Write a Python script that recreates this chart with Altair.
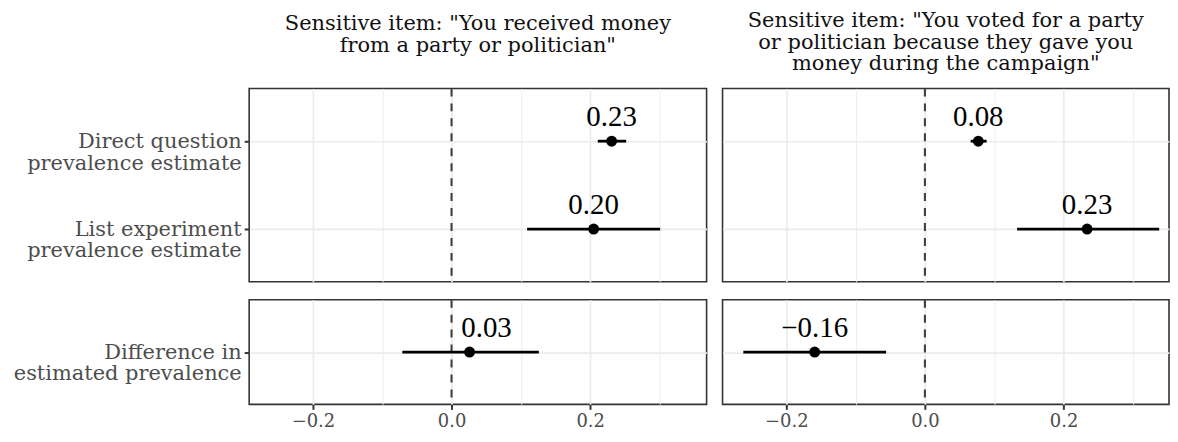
import altair as alt
import pandas as pd

# ---------------- data ----------------
items = ["received", "voted"]
item_titles = [
    ['Sensitive item: "You received money', 'from a party or politician"'],
    ['Sensitive item: "You voted for a party', 'or politician because they gave you',
     'money during the campaign"'],
]
measures = [
    "Direct question\nprevalence estimate",
    "List experiment\nprevalence estimate",
    "Difference in\nestimated prevalence",
]
measure_group = ["estimate", "estimate", "difference"]

est_received = [0.231, 0.205, 0.026]
low_received = [0.211, 0.109, -0.071]
high_received = [0.252, 0.301, 0.126]

est_voted = [0.077, 0.234, -0.159]
low_voted = [0.066, 0.133, -0.262]
high_voted = [0.089, 0.338, -0.056]

x_tick_values = [-0.2, -0.1, 0.0, 0.1, 0.2, 0.3]
zero_line = [0.0]

rows = []
for item, est, low, high in [
    ("received", est_received, low_received, high_received),
    ("voted", est_voted, low_voted, high_voted),
]:
    for m, g, e, lo, hi in zip(measures, measure_group, est, low, high):
        rows.append({"item": item, "measure": m, "group": g, "est": e, "low": lo, "high": hi})
df = pd.DataFrame(rows)
zero_df = pd.DataFrame({"x": zero_line})

# shared x scale with 5% expansion (as ggplot does)
lo_all = min(low_received + low_voted)
hi_all = max(high_received + high_voted)
pad = 0.05 * (hi_all - lo_all)
x_domain = [lo_all - pad, hi_all + pad]

SERIF = "DejaVu Serif"
NUM = "Liberation Serif"
GRID = "#ebebeb"
DARK = "#333333"
minor_test = "abs(round(datum.value*10)) % 2 == 1"

W_LEFT = 459
W_RIGHT = 448   # right panel is cut at the window edge, same scale as the left one
H_TOP = 194
H_BOT = 105
px_per_unit = W_LEFT / (x_domain[1] - x_domain[0])
domains = [x_domain, [x_domain[0], x_domain[0] + W_RIGHT / px_per_unit]]
widths = [W_LEFT, W_RIGHT]


def panel(item_idx, group, first_col, bottom_row):
    item = items[item_idx]
    data = df[(df["item"] == item) & (df["group"] == group)]
    ysort = [m for m, g in zip(measures, measure_group) if g == group]

    grid_width = {"condition": {"test": minor_test, "value": 0.9}, "value": 1.7}
    if bottom_row:
        xaxis = alt.Axis(
            values=x_tick_values, title=None, grid=True, gridColor=GRID, gridWidth=grid_width,
            domain=False, ticks=True, tickSize=5, tickWidth=2, tickColor=DARK,
            tickOpacity={"condition": {"test": minor_test, "value": 0}, "value": 1},
            labelExpr="abs(round(datum.value*10)) % 2 == 1 ? '' : replace(format(datum.value, '.1f'), '-', '\u2212')",
            labelFont=SERIF, labelFontSize=18, labelColor="#4d4d4d", labelPadding=3,
            labelFlush=False, labelOverlap=False,
        )
    else:
        xaxis = alt.Axis(
            values=x_tick_values, title=None, grid=True, gridColor=GRID, gridWidth=grid_width,
            domain=False, ticks=False, labels=False,
        )
    if first_col:
        yaxis = alt.Axis(
            title=None, grid=True, gridColor=GRID, gridWidth=1.7, domain=False,
            ticks=True, tickSize=5, tickWidth=2, tickColor=DARK,
            labelExpr="split(datum.label, '\\n')", labelFont=SERIF, labelFontSize=21,
            labelLineHeight=22, labelColor="#4d4d4d", labelPadding=3, labelLimit=400,
            minExtent=241, maxExtent=241,
        )
    else:
        yaxis = alt.Axis(title=None, grid=True, gridColor=GRID, gridWidth=1.7,
                         domain=False, ticks=False, labels=False)

    xscale = alt.Scale(domain=domains[item_idx], nice=False, zero=False)
    yscale = alt.Scale(type="point", padding=0.6)

    def X(f):
        return alt.X(f, scale=xscale, axis=xaxis)

    def Y():
        return alt.Y("measure:N", sort=ysort, scale=yscale, axis=yaxis)

    base = alt.Chart(data)
    vline = alt.Chart(zero_df).mark_rule(
        color="#404040", strokeWidth=2.1, strokeDash=[8, 7]
    ).encode(x=X("x:Q"))
    bars = base.mark_rule(color="black", strokeWidth=2.8).encode(
        x=X("low:Q"), x2="high:Q", y=Y()
    )
    pts = base.mark_circle(color="black", size=120, opacity=1).encode(x=X("est:Q"), y=Y())
    lab = base.transform_calculate(
        label="replace(format(datum.est, '.2f'), '-', '\u2212')"
    )
    txt = lab.transform_filter("abs(datum.est) >= 0.05").mark_text(
        font=NUM, fontSize=29, color="black", baseline="alphabetic", dy=-15
    ).encode(x=X("est:Q"), y=Y(), text="label:N")
    txt_nudged = lab.transform_filter("abs(datum.est) < 0.05").mark_text(
        font=NUM, fontSize=29, color="black", baseline="alphabetic", dy=-15, dx=17
    ).encode(x=X("est:Q"), y=Y(), text="label:N")

    ch = alt.layer(vline, bars, pts, txt, txt_nudged).properties(
        width=widths[item_idx], height=H_TOP if group == "estimate" else H_BOT
    )
    if group == "estimate":
        lines = item_titles[item_idx]
        ch = ch.properties(title=alt.TitleParams(
            text=lines, font=SERIF, fontSize=21, fontWeight="normal", color="#111111",
            lineHeight=22, anchor="middle", frame="group", offset=13,
            dy=0 if len(lines) == 3 else -19,
        ))
    return ch


chart = alt.concat(
    panel(0, "estimate", True, False),
    panel(1, "estimate", False, False),
    panel(0, "difference", True, True),
    panel(1, "difference", False, True),
    columns=2,
    spacing={"row": 14, "column": 14},
    align="each",
).properties(padding=0, background="white").configure_view(
    stroke=DARK, strokeWidth=1.6
)

chart.save("out.html", embed_options={"renderer": "svg", "actions": False})
